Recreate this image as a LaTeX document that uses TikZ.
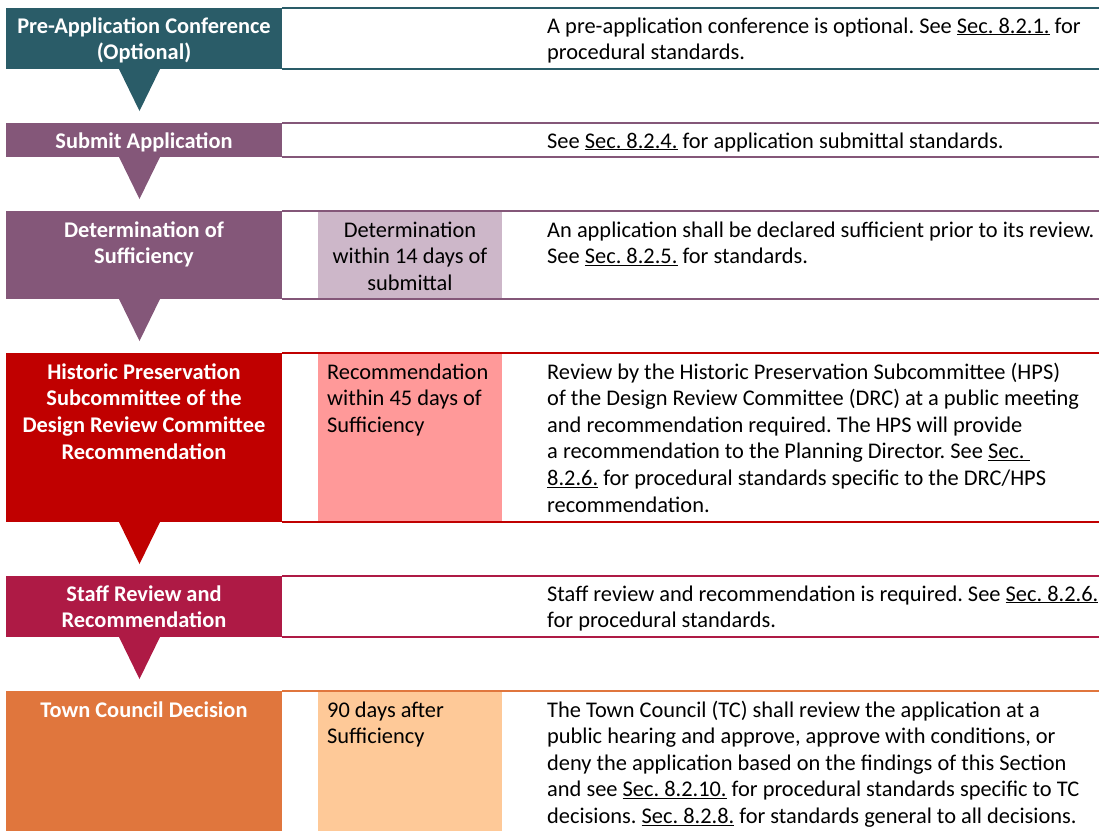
\documentclass[tikz,border=0pt]{standalone}
\usepackage{fontspec}
\setmainfont{Carlito}
\usetikzlibrary{calc}
\definecolor{cTeal}{HTML}{2A5C68}
\definecolor{cPurp}{HTML}{845779}
\definecolor{cRed}{HTML}{C00000}
\definecolor{cCrim}{HTML}{AE1A45}
\definecolor{cOrng}{HTML}{E0763D}
\definecolor{cLPurp}{HTML}{CDB7C9}
\definecolor{cPink}{HTML}{FF9999}
\definecolor{cPeach}{HTML}{FEC998}
\tikzset{
  htext/.style={inner sep=0pt, anchor=base, text=white, font=\fontsize{22.4}{26.7}\selectfont\bfseries\frenchspacing},
  btext/.style={inner sep=0pt, anchor=base west, text=black, font=\fontsize{22.4}{26.6}\selectfont\frenchspacing},
  mtext/.style={inner sep=0pt, anchor=base, text=black, font=\fontsize{22.4}{26.6}\selectfont\frenchspacing},
  rule/.style={line width=2pt},
}
\newcommand\stepRow[4]{% top, bottom, color, arrow?
  \fill[#3] (6,#1) rectangle (282,#2);
  \draw[rule,#3] (282,#1) -- (1099,#1);
  \draw[rule,#3] (282,#2) -- (1099,#2);
  \ifnum#4=1 \fill[#3] (119,#2) -- (139.5,#2+42) -- (160,#2) -- cycle;\fi
}
\begin{document}
\begin{tikzpicture}[x=1pt,y=-1pt]
\useasboundingbox (0,0) rectangle (1099,831);
% Row 1
\stepRow{8}{69}{cTeal}{1}
\node[htext] (h1) at (144,33) {\parbox[t]{274pt}{\centering Pre-Application Conference\\(Optional)}};
\node[btext] (b1) at (547,33) {\parbox[t]{560pt}{\raggedright A pre-application conference is optional. See \underline{Sec. 8.2.1.} for\\procedural standards.}};
% Row 2
\stepRow{123}{157}{cPurp}{1}
\node[htext] (h2) at (144,148) {Submit Application};
\node[btext] (b2) at (547,148) {See \underline{Sec. 8.2.4.} for application submittal standards.};
% Row 3
\stepRow{211}{299}{cPurp}{1}
\fill[cLPurp] (318,212) rectangle (502,298);
\node[htext] (h3) at (144,237) {\parbox[t]{274pt}{\centering Determination of\\Sufficiency}};
\node[mtext] (m3) at (410,237) {\parbox[t]{184pt}{\centering Determination\\within 14 days of\\submittal}};
\node[btext] (b3) at (547,237) {\parbox[t]{560pt}{\raggedright An application shall be declared sufficient prior to its review.\\See \underline{Sec. 8.2.5.} for standards.}};
% Row 4
\stepRow{353}{522}{cRed}{1}
\fill[cPink] (318,354) rectangle (502,521);
\node[htext] (h4) at (144,379) {\parbox[t]{274pt}{\centering Historic Preservation\\Subcommittee of the\\Design Review Committee\\Recommendation}};
\node[btext] (m4) at (327,379) {\parbox[t]{175pt}{\raggedright Recommendation\\within 45 days of\\Sufficiency}};
\node[btext] (b4) at (547,379) {\parbox[t]{560pt}{\raggedright Review by the Historic Preservation Subcommittee (HPS)\\of the Design Review Committee (DRC) at a public meeting\\and recommendation required. The HPS will provide\\a recommendation to the Planning Director. See \underline{Sec.\ }\\\underline{8.2.6.} for procedural standards specific to the DRC/HPS\\recommendation.}};
% Row 5
\stepRow{576}{637}{cCrim}{1}
\node[htext] (h5) at (144,601) {\parbox[t]{274pt}{\centering Staff Review and\\Recommendation}};
\node[btext] (b5) at (547,601) {\parbox[t]{560pt}{\raggedright Staff review and recommendation is required. See \underline{Sec. 8.2.6.}\\for procedural standards.}};
% Row 6
\fill[cOrng] (6,691) rectangle (282,831);
\draw[rule,cOrng] (282,691) -- (1099,691);
\fill[cPeach] (318,692) rectangle (502,831);
\node[htext] (h6) at (144,717) {Town Council Decision};
\node[btext] (m6) at (327,717) {\parbox[t]{175pt}{\raggedright 90 days after\\Sufficiency}};
\node[btext] (b6) at (547,717) {\parbox[t]{560pt}{\raggedright The Town Council (TC) shall review the application at a\\public hearing and approve, approve with conditions, or\\deny the application based on the findings of this Section\\and see \underline{Sec. 8.2.10.} for procedural standards specific to TC\\decisions. \underline{Sec. 8.2.8.} for standards general to all decisions.}};
\end{tikzpicture}
\end{document}
